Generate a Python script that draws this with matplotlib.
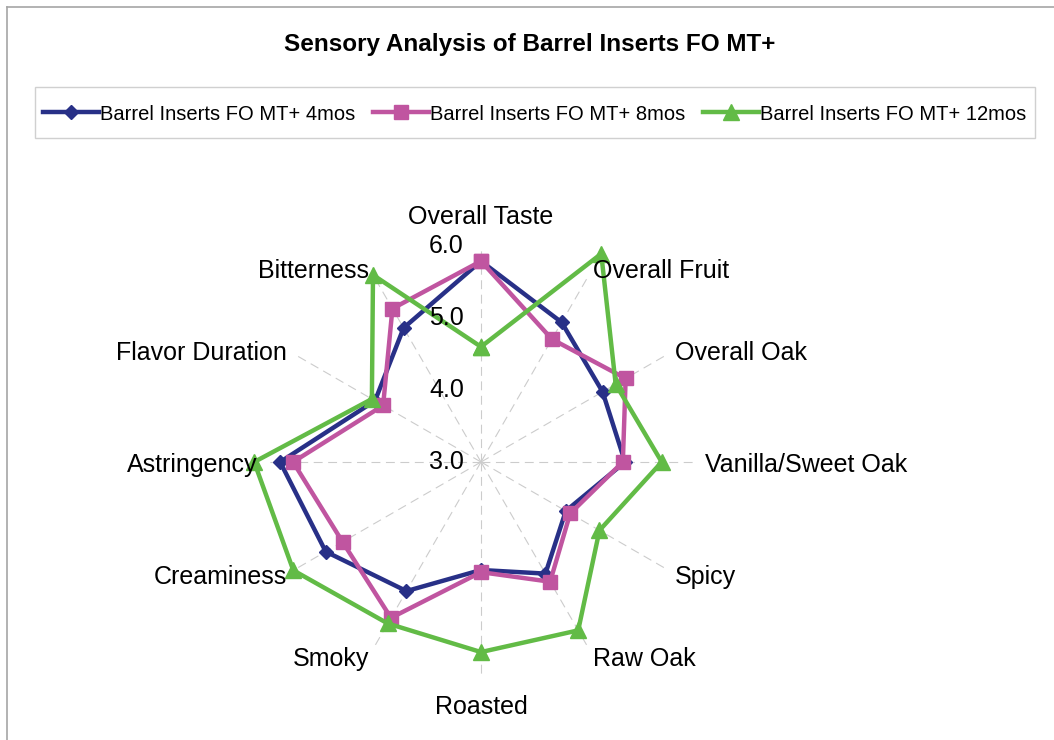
import numpy as np
import matplotlib
matplotlib.use('Agg')
import matplotlib.pyplot as plt
from matplotlib.lines import Line2D
from matplotlib.patches import Rectangle
from matplotlib.transforms import offset_copy

plt.rcParams['font.family'] = ['Liberation Sans', 'DejaVu Sans']

# sensory attributes, clockwise from the top
categories = ['Overall Taste', 'Overall Fruit', 'Overall Oak', 'Vanilla/Sweet Oak',
              'Spicy', 'Raw Oak', 'Roasted', 'Smoky', 'Creaminess', 'Astringency',
              'Flavor Duration', 'Bitterness']

series_names = ['Barrel Inserts FO MT+ 4mos', 'Barrel Inserts FO MT+ 8mos',
                'Barrel Inserts FO MT+ 12mos']
mos4 = [5.79, 5.24, 4.95, 5.00, 4.36, 4.79, 4.50, 5.07, 5.49, 5.79, 4.70, 5.15]
mos8 = [5.79, 4.97, 5.32, 4.97, 4.43, 4.92, 4.53, 5.50, 5.22, 5.61, 4.57, 5.46]
mos12 = [4.60, 6.34, 5.16, 5.51, 4.90, 5.70, 5.64, 5.59, 6.01, 6.15, 4.75, 6.00]

r_ticks = [3.0, 4.0, 5.0, 6.0]

colors = ['#283087', '#c055a0', '#62bb46']
markers = ['D', 's', '^']
msizes = [7.5, 10, 12]

W, H = 1054, 740
fig = plt.figure(figsize=(W / 100, H / 100), dpi=100)

# chart frame (left and top edges only visible)
fx, fy = 7 / W, 1 - 7 / H
fig.add_artist(Line2D([fx, fx], [0, fy], color='#a6a6a6', lw=1.2))
fig.add_artist(Line2D([fx, 1], [fy, fy], color='#a6a6a6', lw=1.2))

cx, cy, R = 481, 462, 216
ax = fig.add_axes([(cx - R) / W, (H - cy - R) / H, 2 * R / W, 2 * R / H], projection='polar')
ax.set_theta_zero_location('N')
ax.set_theta_direction(-1)
ax.set_ylim(3, 6)
ax.spines['polar'].set_visible(False)
ax.set_facecolor('none')

angles = np.linspace(0, 2 * np.pi, len(categories), endpoint=False)
ax.set_xticks(angles)
ax.set_xticklabels([])
ax.set_yticks(r_ticks)
ax.set_yticklabels([])
ax.yaxis.grid(False)
ax.xaxis.grid(True, color='#cccccc', linestyle=(0, (8, 5)), lw=0.8)

for vals, name, c, m, ms in zip([mos4, mos8, mos12], series_names, colors, markers, msizes):
    a = np.append(angles, angles[0])
    v = np.append(vals, vals[0])
    ax.plot(a, v, color=c, lw=3.2, marker=m, markersize=ms, label=name, clip_on=False, zorder=3)

# radial value labels
tr = offset_copy(ax.transData, fig=fig, x=-17, y=0, units='dots')
for t in r_ticks:
    ax.text(0, t, f'{t:.1f}', transform=tr, ha='right', va='center', fontsize=18)

# category labels
side_tr = offset_copy(ax.transData, fig=fig, x=0, y=-3, units='dots')
for ang, lab in zip(angles, categories):
    s = np.sin(ang)
    c = np.cos(ang)
    if abs(s) < 0.01:
        ax.text(ang, 3 + 233 / 72, lab, ha='center', va='bottom' if c > 0 else 'top',
                fontsize=18)
    else:
        ax.text(ang, 3 + 224 / 72, lab, ha='left' if s > 0 else 'right', va='center',
                fontsize=18, transform=side_tr)

fig.text(530 / W, 1 - 45 / H, 'Sensory Analysis of Barrel Inserts FO MT+',
         ha='center', va='center', fontsize=17.5, fontweight='bold')

# legend box drawn separately so its size matches the original
fig.add_artist(Rectangle((35 / W, 1 - 138 / H), 1000 / W, 51 / H, transform=fig.transFigure,
                         facecolor='none', edgecolor='#d0d0d0', lw=1))
leg = fig.legend(loc='center left', bbox_to_anchor=(43 / W, 1 - 114 / H),
                 ncol=3, fontsize=14.5, frameon=False, borderpad=0,
                 handlelength=2.8, handletextpad=0.05, columnspacing=0.85, borderaxespad=0)

fig.savefig('out.png', dpi=100)
